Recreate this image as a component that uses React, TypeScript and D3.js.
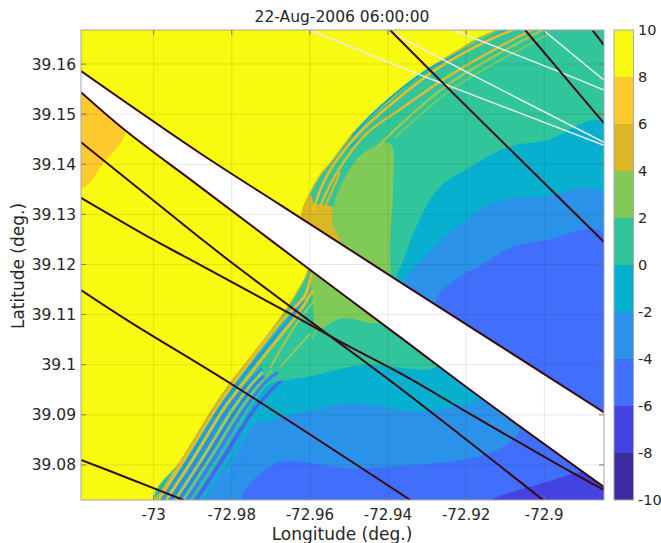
import React from "react";
import * as d3 from "d3";

type P = [number, number];

const W = 661, H = 543;
const title = "22-Aug-2006 06:00:00";
const xTicks = [-73, -72.98, -72.96, -72.94, -72.92, -72.9];
const yTicks = [39.08, 39.09, 39.1, 39.11, 39.12, 39.13, 39.14, 39.15, 39.16];
const cbTicks = [-10, -8, -6, -4, -2, 0, 2, 4, 6, 8, 10];
const bandColors = ["#3b2ca2", "#4442e0", "#3f6ffb", "#2a92e8", "#06b0ce", "#30c59a", "#80cb58", "#dcb725", "#fdc92d", "#f8fa0f"];

const lineA: P[] = [[-73.0186, 39.1586], [-72.9881, 39.1422], [-72.9676, 39.1319], [-72.9369, 39.1165], [-72.8847, 39.0905]];
const lineB: P[] = [[-73.0186, 39.1544], [-73.0073, 39.1468], [-72.9881, 39.1355], [-72.9633, 39.1209], [-72.9369, 39.1055], [-72.9164, 39.0935], [-72.8847, 39.0756]];
const lineC: P[] = [[-73.0186, 39.1444], [-72.9881, 39.1253], [-72.9809, 39.1209], [-72.9569, 39.1069], [-72.9369, 39.0953], [-72.9003, 39.073]];
const lineD: P[] = [[-73.0186, 39.1333], [-73.0009, 39.1253], [-72.9914, 39.1213], [-72.9658, 39.1105], [-72.9515, 39.1043], [-72.9369, 39.0983], [-72.9197, 39.0905], [-72.8941, 39.079], [-72.8847, 39.075]];
const lineE: P[] = [[-73.0186, 39.1149], [-73.006, 39.1085], [-72.9804, 39.0963], [-72.9343, 39.073]];
const lineF: P[] = [[-73.0186, 39.081], [-73.006, 39.0772], [-72.9924, 39.073]];
const lineG: P[] = [[-72.9395, 39.1668], [-72.9249, 39.1554], [-72.8847, 39.1245]];
const lineH: P[] = [[-72.9049, 39.1668], [-72.8847, 39.1482]];
const lineI: P[] = [[-72.8877, 39.1668], [-72.8847, 39.1638]];
const darkLines = [lineA, lineB, lineC, lineD, lineE, lineF, lineG, lineH, lineI];

const whiteJ: P[] = [[-72.9599, 39.1668], [-72.9336, 39.1584], [-72.9249, 39.1558], [-72.8847, 39.1438]];
const whiteK: P[] = [[-72.9402, 39.1668], [-72.9208, 39.1588], [-72.8847, 39.1444]];
const whiteL: P[] = [[-72.9233, 39.1668], [-72.8959, 39.1584], [-72.8847, 39.1548]];
const whiteM: P[] = [[-72.9003, 39.1668], [-72.8847, 39.1568]];
const whiteLines = [whiteJ, whiteK, whiteL, whiteM];

const front: P[] = [[-72.9996, 39.073], [-72.9924, 39.0816], [-72.9848, 39.0913], [-72.9804, 39.0963], [-72.9732, 39.1035], [-72.9676, 39.1093], [-72.963, 39.1149], [-72.9604, 39.1193], [-72.9622, 39.1293], [-72.9574, 39.1378], [-72.9548, 39.1402], [-72.9492, 39.146], [-72.9466, 39.148], [-72.9395, 39.1528], [-72.9336, 39.1568], [-72.9249, 39.1614], [-72.9121, 39.1668]];
const corners: P[] = [[-72.88, 39.17], [-72.88, 39.07]];
const far: P = [-72.88, 39.07];
const orangePatch: P[] = [[-73.0186, 39.1544], [-73.0073, 39.1468], [-73.0129, 39.1402], [-73.0186, 39.1352], [-73.025, 39.15]];
const goldPatch: P[] = [[-72.9622, 39.1293], [-72.9599, 39.1339], [-72.9589, 39.1319], [-72.9579, 39.1319], [-72.954, 39.1313], [-72.9543, 39.1285], [-72.9523, 39.1245], [-72.9574, 39.1249]];
const greenPatch: P[] = [[-72.9523, 39.1245], [-72.9543, 39.1285], [-72.9535, 39.1329], [-72.951, 39.1374], [-72.9464, 39.1422], [-72.9395, 39.1442], [-72.9387, 39.1355], [-72.9395, 39.1243], [-72.9395, 39.1149], [-72.942, 39.1085], [-72.9515, 39.1093], [-72.9581, 39.1073], [-72.9592, 39.1129], [-72.9594, 39.1193]];
const cyanPatch: P[] = [[-72.8847, 39.1484], [-72.8993, 39.1448], [-72.9095, 39.1434], [-72.919, 39.1394], [-72.9274, 39.1349], [-72.9361, 39.1209], [-72.9382, 39.1149], [-72.9274, 39.0999], [-72.9464, 39.0999], [-72.9625, 39.0973], [-72.9779, 39.0959], [-72.984, 39.0913], [-72.9917, 39.0816], [-72.9988, 39.073], far];
const bluePatch: P[] = [[-72.8847, 39.1343], [-72.9003, 39.1335], [-72.9131, 39.1323], [-72.9223, 39.1275], [-72.9292, 39.1229], [-72.9343, 39.1183], [-72.9361, 39.1149], [-72.9164, 39.0935], [-72.9241, 39.0915], [-72.9318, 39.0907], [-72.9505, 39.0923], [-72.9592, 39.0909], [-72.9676, 39.0895], [-72.9855, 39.085], [-72.9907, 39.079], [-72.9958, 39.073], far];
const royalPatch: P[] = [[-72.8847, 39.1263], [-72.8993, 39.1249], [-72.9087, 39.1233], [-72.9139, 39.1209], [-72.9279, 39.1123], [-72.9062, 39.0874], [-72.9121, 39.083], [-72.9215, 39.081], [-72.9325, 39.08], [-72.9505, 39.0794], [-72.9684, 39.0804], [-72.9771, 39.073], far];
const indigoPatch: P[] = [[-72.8847, 39.0794], [-72.8916, 39.0784], [-72.9003, 39.0764], [-72.9139, 39.073], [-72.92, 39.07], far];

const s1: P[] = [[-72.9594, 39.1303], [-72.9556, 39.1378], [-72.9479, 39.1458], [-72.9389, 39.1522], [-72.9272, 39.1592], [-72.9131, 39.1652], [-72.908, 39.1668]];
const s2: P[] = [[-72.9574, 39.1315], [-72.9535, 39.1378], [-72.9459, 39.1458], [-72.9361, 39.1514], [-72.9249, 39.1574], [-72.9121, 39.1632], [-72.9031, 39.1668]];
const s3a: P[] = [[-72.9561, 39.1315], [-72.9523, 39.1384]];
const s3b: P[] = [[-72.9428, 39.1434], [-72.9336, 39.1502], [-72.9241, 39.1562], [-72.9113, 39.1622], [-72.9005, 39.1668]];
const s4: P[] = [[-72.9382, 39.1454], [-72.9318, 39.1498], [-72.9233, 39.1552], [-72.9121, 39.1604], [-72.8993, 39.1658]];
const c1: P[] = [[-72.9492, 39.1456], [-72.9438, 39.1502], [-72.93, 39.1588], [-72.9197, 39.1628], [-72.9095, 39.1668]];
const c2: P[] = [[-72.9497, 39.1436], [-72.9441, 39.1468], [-72.9382, 39.1504]];
const w1: P[] = [[-72.9988, 39.073], [-72.9917, 39.0816], [-72.984, 39.0913], [-72.9796, 39.0963], [-72.9722, 39.1039], [-72.9671, 39.1089], [-72.9612, 39.1139], [-72.9597, 39.1183]];
const w2: P[] = [[-72.9978, 39.073], [-72.9907, 39.0816], [-72.983, 39.0913], [-72.9784, 39.0963], [-72.9707, 39.1039], [-72.9645, 39.1099], [-72.9617, 39.1129]];
const w3: P[] = [[-72.9968, 39.073], [-72.9896, 39.0816], [-72.982, 39.0913], [-72.9771, 39.0963], [-72.9695, 39.1039], [-72.9633, 39.1099], [-72.9592, 39.1149]];
const w4: P[] = [[-72.9955, 39.073], [-72.9884, 39.0816], [-72.9807, 39.0913], [-72.9758, 39.0963], [-72.9722, 39.0993]];
const w5: P[] = [[-72.9945, 39.073], [-72.9873, 39.0816], [-72.9796, 39.0913], [-72.9748, 39.0963], [-72.9722, 39.0985]];
const w6: P[] = [[-72.9935, 39.073], [-72.9863, 39.0816], [-72.9786, 39.0913], [-72.9738, 39.0963], [-72.9717, 39.0977]];
const w7: P[] = [[-72.9924, 39.073], [-72.9853, 39.0816], [-72.9776, 39.0913], [-72.9727, 39.0963], [-72.9697, 39.0989]];
const w8: P[] = [[-72.9914, 39.073], [-72.9843, 39.0816], [-72.9766, 39.0913], [-72.9717, 39.0963], [-72.9681, 39.0985]];
const w9: P[] = [[-72.9904, 39.073], [-72.9832, 39.0816], [-72.9756, 39.0913], [-72.9707, 39.0963], [-72.9645, 39.0973]];
const w10: P[] = [[-72.9891, 39.073], [-72.982, 39.0816], [-72.974, 39.0913], [-72.9668, 39.0973]];
const w11: P[] = [[-72.9878, 39.073], [-72.9807, 39.0816], [-72.9727, 39.0913], [-72.9689, 39.0945]];
const w12: P[] = [[-72.9817, 39.078], [-72.9771, 39.085], [-72.9727, 39.0905]];
const w13: P[] = [[-72.9799, 39.0776], [-72.9761, 39.0816]];
const w14: P[] = [[-72.9707, 39.0879], [-72.9643, 39.0973]];
const g1: P[] = [[-72.9702, 39.0993], [-72.9633, 39.1083], [-72.9587, 39.1129]];
const g2: P[] = [[-72.9676, 39.0995], [-72.9599, 39.1063]];
const g3: P[] = [[-72.9594, 39.1053], [-72.9574, 39.1085]];

const patches: { pts: P[]; color: string }[] = [
  { pts: [...front, ...corners], color: bandColors[5] },
  { pts: orangePatch, color: bandColors[8] },
  { pts: goldPatch, color: bandColors[7] },
  { pts: greenPatch, color: bandColors[6] },
  { pts: cyanPatch, color: bandColors[4] },
  { pts: bluePatch, color: bandColors[3] },
  { pts: royalPatch, color: bandColors[2] },
  { pts: indigoPatch, color: bandColors[1] },
];

const stripes: { pts: P[]; color: string; w: number }[] = [
  { pts: front, color: "#dcb725", w: 1.4 },
  { pts: c1, color: "#06b0ce", w: 2 },
  { pts: c2, color: "#06b0ce", w: 1.6 },
  { pts: s1, color: "#e8bd25", w: 2.6 },
  { pts: s2, color: "#dcbb30", w: 2.5 },
  { pts: s3a, color: "#dcb725", w: 2.2 },
  { pts: s3b, color: "#a6c848", w: 2.2 },
  { pts: s4, color: "#80cb58", w: 1.8 },
  { pts: w11, color: "#10b0d0", w: 3 },
  { pts: w10, color: "#4a60f0", w: 3 },
  { pts: w9, color: "#30c0a0", w: 3 },
  { pts: w8, color: "#3f7ff8", w: 3.2 },
  { pts: w7, color: "#6cc76b", w: 3 },
  { pts: w6, color: "#2a88ec", w: 3.2 },
  { pts: w5, color: "#a8c848", w: 3 },
  { pts: w4, color: "#2a92e8", w: 3.2 },
  { pts: w3, color: "#d8bf30", w: 3 },
  { pts: w2, color: "#1e9fe0", w: 3.2 },
  { pts: w1, color: "#e8bd25", w: 3 },
  { pts: w12, color: "#10b0d0", w: 1.8 },
  { pts: w13, color: "#3f7ff8", w: 1.8 },
  { pts: w14, color: "#10b0d0", w: 1.5 },
  { pts: g1, color: "#a6c848", w: 2 },
  { pts: g2, color: "#a6c848", w: 1.7 },
  { pts: g3, color: "#80cb58", w: 1.5 },
];

const font = "'DejaVu Sans', sans-serif";
const ink = "#262626";

export default function App() {
  const m = { l: 81, r: 604, t: 30, b: 500 };
  const x = d3.scaleLinear().domain([-73.0186, -72.8847]).range([m.l, m.r]);
  const y = d3.scaleLinear().domain([39.073, 39.1668]).range([m.b, m.t]);
  const cb = d3.scaleLinear().domain([-10, 10]).range([500, 30]);
  const closed = d3.line<P>().x((d) => x(d[0])).y((d) => y(d[1])).curve(d3.curveCatmullRomClosed.alpha(0.5));
  const smooth = d3.line<P>().x((d) => x(d[0])).y((d) => y(d[1])).curve(d3.curveCatmullRom.alpha(0.5));

  return (
    <svg width={W} height={H} style={{ position: "absolute", left: 0, top: 0, background: "#fff" }} fontFamily={font}>
      <defs>
        <clipPath id="plot"><rect x={m.l} y={m.t} width={m.r - m.l} height={m.b - m.t} /></clipPath>
      </defs>
      <g clipPath="url(#plot)">
        <rect x={m.l} y={m.t} width={m.r - m.l} height={m.b - m.t} fill={bandColors[9]} />
        {patches.map((p, i) => <path key={i} d={closed(p.pts)!} fill={p.color} />)}
        {stripes.map((s, i) => <path key={i} d={smooth(s.pts)!} fill="none" stroke={s.color} strokeWidth={s.w} />)}
        <path d={smooth(lineA)! + "L" + smooth([...lineB].reverse())!.slice(1) + "Z"} fill="#fff" />
        {xTicks.map((t) => <line key={t} x1={x(t)} x2={x(t)} y1={m.t} y2={m.b} stroke="#262626" strokeOpacity={0.1} />)}
        {yTicks.map((t) => <line key={t} y1={y(t)} y2={y(t)} x1={m.l} x2={m.r} stroke="#262626" strokeOpacity={0.1} />)}
        {whiteLines.map((l, i) => <path key={i} d={smooth(l)!} fill="none" stroke="#ececec" strokeWidth={1.5} />)}
        {darkLines.map((l, i) => <path key={i} d={smooth(l)!} fill="none" stroke="#3a0a12" strokeWidth={2} />)}
      </g>
      <rect x={m.l} y={m.t} width={m.r - m.l} height={m.b - m.t} fill="none" stroke="#a8a8a8" strokeWidth={1} />
      {xTicks.map((t) => (
        <g key={t}>
          <line x1={x(t)} x2={x(t)} y1={m.b} y2={m.b - 5} stroke="#777" />
          <line x1={x(t)} x2={x(t)} y1={m.t} y2={m.t + 5} stroke="#777" />
          <text x={x(t)} y={520} textAnchor="middle" fontSize={15} fill={ink}>{t}</text>
        </g>
      ))}
      {yTicks.map((t) => (
        <g key={t}>
          <line y1={y(t)} y2={y(t)} x1={m.l} x2={m.l + 5} stroke="#777" />
          <line y1={y(t)} y2={y(t)} x1={m.r} x2={m.r - 5} stroke="#777" />
          <text x={76} y={y(t) + 5.5} textAnchor="end" fontSize={15.5} fill={ink}>{t}</text>
        </g>
      ))}
      <text x={342} y={22} textAnchor="middle" fontSize={15.5} fill={ink}>{title}</text>
      <text x={342} y={540} textAnchor="middle" fontSize={17} fill={ink}>Longitude (deg.)</text>
      <text transform="translate(24,266) rotate(-90)" textAnchor="middle" fontSize={17} fill={ink}>Latitude (deg.)</text>
      {bandColors.map((c, i) => (
        <rect key={c} x={614} y={cb(cbTicks[i + 1])} width={19.5} height={cb(cbTicks[i]) - cb(cbTicks[i + 1])} fill={c} />
      ))}
      <rect x={614} y={30} width={19.5} height={470} fill="none" stroke="#a8a8a8" />
      {cbTicks.map((t) => (
        <text key={t} x={638} y={cb(t) + 5} fontSize={14.5} fill={ink}>{t}</text>
      ))}
    </svg>
  );
}
